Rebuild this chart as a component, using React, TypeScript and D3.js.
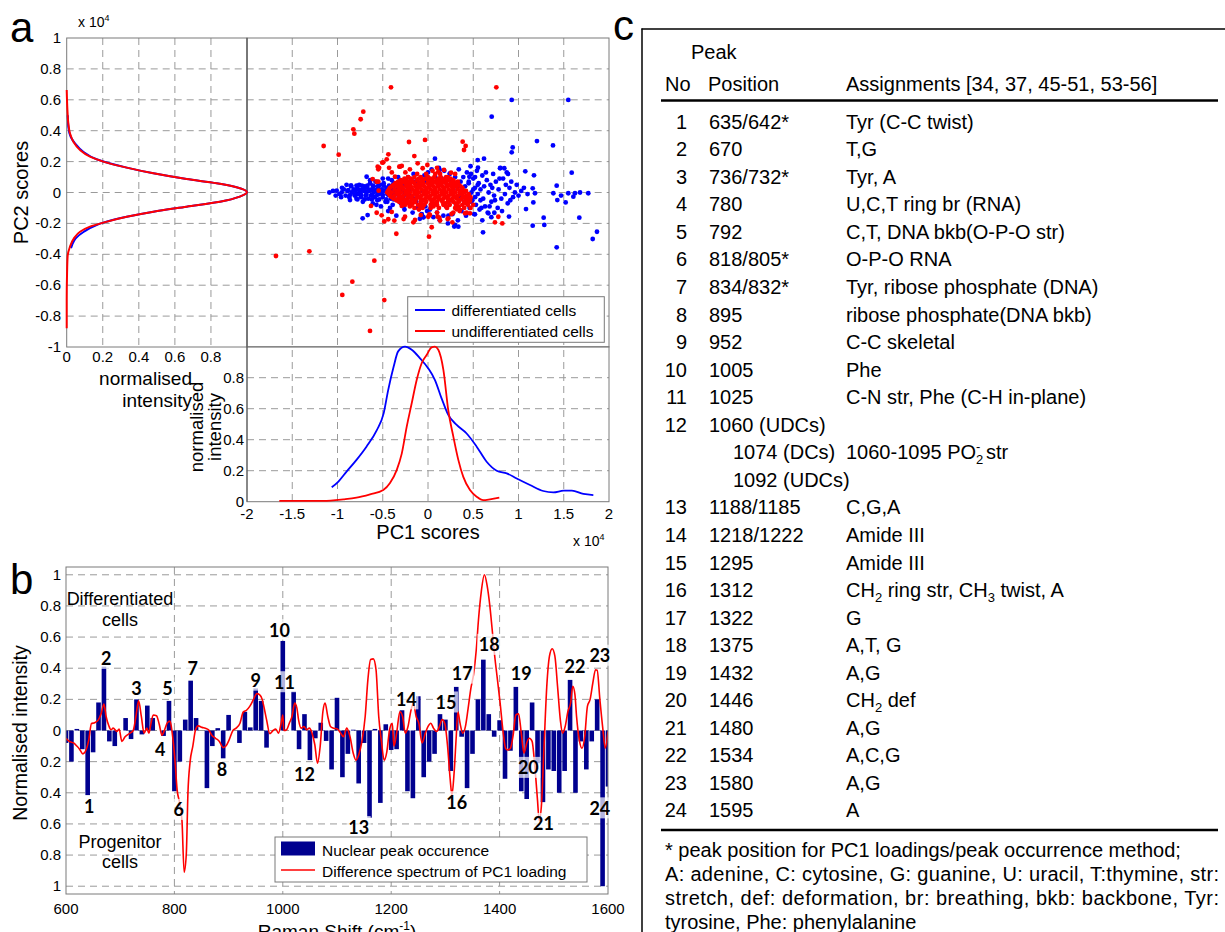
import React from 'react';
import * as d3 from 'd3';

const FONT = "'Liberation Sans', Arial, Helvetica, sans-serif";
const NUM_FONT = "Lato, 'Open Sans', sans-serif";

// ---------------- Panel a: ticks ----------------
const pc2Ticks = [1, 0.8, 0.6, 0.4, 0.2, 0, -0.2, -0.4, -0.6, -0.8, -1];
const pc2Grid = [0.8, 0.6, 0.4, 0.2, 0, -0.2, -0.4, -0.6, -0.8];
const intensityTicks = [0, 0.2, 0.4, 0.6, 0.8];
const intensityGrid = [0.2, 0.4, 0.6, 0.8];
const pc1Ticks = [-2, -1.5, -1, -0.5, 0, 0.5, 1, 1.5, 2];
const pc1Grid = [-1.5, -1, -0.5, 0, 0.5, 1, 1.5];
const densTicks = [0, 0.2, 0.4, 0.6, 0.8];
const densGrid = [0.2, 0.4, 0.6, 0.8];

// ---------------- Panel a: PC1 marginal density (x 10^4) ----------------
const blueKdePC1 = [-1.064, -0.99, -0.9, -0.79, -0.68, -0.567, -0.49, -0.44, -0.38, -0.33, -0.254, -0.18, -0.088, 0.003, 0.077, 0.15, 0.224, 0.317, 0.427, 0.538, 0.648, 0.759, 0.87, 0.98, 1.127, 1.274, 1.385, 1.5, 1.59, 1.717, 1.827];
const blueKdeVal = [0.093, 0.13, 0.194, 0.27, 0.355, 0.46, 0.57, 0.72, 0.87, 0.97, 1.0, 0.98, 0.925, 0.86, 0.785, 0.667, 0.56, 0.495, 0.44, 0.355, 0.258, 0.2, 0.183, 0.15, 0.108, 0.069, 0.06, 0.071, 0.071, 0.05, 0.043];
const redKdePC1 = [-1.643, -1.157, -0.936, -0.79, -0.64, -0.494, -0.42, -0.346, -0.29, -0.235, -0.18, -0.125, -0.07, -0.015, 0.04, 0.077, 0.114, 0.17, 0.224, 0.28, 0.335, 0.39, 0.464, 0.538, 0.61, 0.685, 0.788];
const redKdeVal = [0.005, 0.005, 0.015, 0.026, 0.048, 0.075, 0.12, 0.204, 0.31, 0.484, 0.635, 0.785, 0.893, 0.946, 0.996, 1.0, 0.98, 0.85, 0.59, 0.42, 0.27, 0.16, 0.075, 0.032, 0.01, 0.015, 0.026];

// ---------------- Panel a: PC2 marginal density ----------------
const redMargPC2 = [0.663, 0.534, 0.448, 0.383, 0.329, 0.275, 0.232, 0.2, 0.161, 0.124, 0.087, 0.06, 0.034, 0.003, -0.027, -0.06, -0.092, -0.124, -0.157, -0.195, -0.221, -0.254, -0.297, -0.351, -0.415, -0.523, -0.696, -0.879];
const redMargVal = [0, 0.004, 0.009, 0.018, 0.037, 0.074, 0.129, 0.203, 0.333, 0.481, 0.665, 0.832, 0.942, 1.0, 0.96, 0.85, 0.665, 0.481, 0.333, 0.203, 0.129, 0.074, 0.04, 0.018, 0.005, 0.002, 0, 0];
const blueMargPC2 = [0.5, 0.426, 0.361, 0.318, 0.264, 0.215, 0.161, 0.124, 0.087, 0.06, 0.034, 0.003, -0.027, -0.06, -0.092, -0.124, -0.157, -0.195, -0.21, -0.254, -0.297, -0.34, -0.36];
const blueMargVal = [0.006, 0.009, 0.022, 0.046, 0.092, 0.166, 0.333, 0.481, 0.665, 0.832, 0.942, 1.0, 0.96, 0.85, 0.665, 0.481, 0.333, 0.203, 0.166, 0.095, 0.05, 0.03, 0.024];

// ---------------- Panel a: scores (PC1, PC2) x 10^4 ----------------
const blueScores: number[][] = [
  [0.925, 0.599], [1.55, 0.599], [0.704, 0.491], [1.204, 0.333], [1.381, 0.305], [0.936, 0.292], [0.925, 0.26], [0.549, 0.21], [0.619, 0.219], [0.077, 0.219],
  [0.552, 0.161], [0.796, 0.157], [0.843, 0.157], [0.884, 0.12], [1.075, 0.137], [1.171, 0.111], [1.588, 0.128], [1.422, 0.044], [1.68, 0], [1.771, -0.005],
  [1.385, -0.005], [1.47, -0.02], [1.606, -0.027], [1.624, -0.005], [1.55, -0.005], [1.429, -0.049], [1.521, -0.064], [1.157, 0.027], [1.182, -0.005], [1.083, -0.107],
  [1.164, -0.064], [1.278, -0.163], [1.285, -0.21], [1.157, -0.215], [1.672, -0.163], [1.867, -0.254], [1.82, -0.301], [1.422, -0.355], [0.608, -0.258], [0.895, -0.156],
  [0.818, -0.12], [0.733, -0.131], [0.667, -0.135], [0.519, -0.141], [0.298, -0.21], [0.335, -0.221], [0.225, -0.15], [-0.052, -0.161], [-0.07, -0.141], [-0.722, -0.167],
  [-0.667, -0.146], [0.129, 0.146], [0.243, 0.124], [0.475, 0.12], [0.457, 0.102], [-0.678, 0.102], [-0.851, 0.044], [-1.09, 0], [-1.009, 0.012], [-0.954, 0], [-0.862, -0.049],
  [-1.05, 0.01], [-0.98, -0.01], [-0.93, 0.02], [-0.91, -0.02], [-0.89, 0.01], [-0.87, -0.03], [-0.85, 0.04], [-0.84, 0.0], [-0.82, 0.02], [-0.81, -0.02], [-0.8, 0.01], [-0.79, -0.04],
  [-0.78, 0.03], [-0.77, -0.01], [-0.76, 0.05], [-0.75, 0.0], [-0.74, -0.03], [-0.73, 0.02], [-0.72, -0.06], [-0.71, 0.01], [-0.7, 0.04], [-0.69, -0.02], [-0.68, 0.0], [-0.67, 0.03],
  [-0.66, -0.04], [-0.65, 0.01], [-0.64, 0.06], [-0.63, -0.02], [-0.62, 0.02], [-0.61, -0.07], [-0.6, 0.0], [-0.6, 0.04], [-0.59, -0.03], [-0.58, 0.07], [-0.57, 0.01], [-0.56, -0.05],
  [-0.55, 0.03], [-0.54, -0.01], [-0.53, 0.05], [-0.52, -0.09], [-0.52, 0.0], [-0.51, 0.02], [-0.5, -0.03], [-0.49, 0.06], [-0.48, 0.01], [-0.47, -0.06], [-0.46, 0.03], [-0.45, -0.01],
  [-0.44, 0.09], [-0.44, -0.12], [-0.43, 0.0], [-0.42, 0.04], [-0.41, -0.04], [-0.4, 0.02], [-0.39, -0.08], [-0.38, 0.06], [-0.37, -0.02], [-0.36, 0.01], [-0.35, -0.15], [-0.35, 0.05],
  [-0.34, -0.05], [-0.33, 0.03], [-0.32, -0.01], [-0.31, 0.08], [-0.3, -0.07], [-0.29, 0.02], [-0.28, -0.03], [-0.27, 0.05], [-0.26, -0.11], [-0.25, 0.0], [-0.24, 0.04], [-0.23, -0.05],
  [-0.22, 0.1], [-0.21, -0.02], [-0.2, 0.06], [-0.19, -0.08], [-0.18, 0.02], [-0.17, -0.13], [-0.16, 0.12], [-0.15, -0.04], [-0.14, 0.07], [-0.13, -0.06], [-0.12, 0.03], [-0.11, -0.1],
  [-0.1, 0.05], [-0.09, -0.17], [-0.08, 0.09], [-0.07, -0.14], [-0.06, 0.01], [-0.05, -0.16], [-0.04, 0.11], [-0.03, -0.09], [-0.02, 0.07], [-0.01, -0.12], [0.0, 0.13],
  [0.02, -0.11], [0.04, 0.15], [0.06, -0.16], [0.08, 0.1], [0.1, -0.13], [0.12, 0.16], [0.13, -0.18], [0.15, 0.09], [0.17, -0.15], [0.18, 0.14], [0.2, -0.09], [0.21, 0.05],
  [0.22, -0.2], [0.24, 0.12], [0.25, -0.05], [0.26, 0.08], [0.27, -0.14], [0.28, 0.02], [0.29, -0.22], [0.3, 0.1], [0.31, -0.08], [0.32, 0.04], [0.33, -0.18], [0.34, 0.15],
  [0.35, -0.03], [0.36, 0.07], [0.37, -0.12], [0.38, 0.01], [0.39, 0.1], [0.4, -0.06], [0.41, 0.04], [0.42, -0.15], [0.43, 0.13], [0.44, -0.02], [0.45, 0.07], [0.46, -0.1],
  [0.47, 0.17], [0.48, 0.0], [0.49, -0.05], [0.5, 0.09], [0.51, -0.14], [0.52, 0.03], [0.53, -0.08], [0.54, 0.14], [0.55, -0.01], [0.56, 0.06], [0.57, -0.11], [0.58, 0.02],
  [0.6, 0.11], [0.61, -0.04], [0.62, 0.04], [0.63, -0.09], [0.65, 0.08], [0.66, -0.13], [0.67, 0.0], [0.69, 0.05], [0.7, -0.06], [0.72, 0.12], [0.73, -0.02], [0.75, 0.07],
  [0.77, -0.1], [0.78, 0.02], [0.8, 0.16], [0.81, -0.04], [0.83, 0.09], [0.85, -0.01], [0.87, 0.13], [0.88, -0.07], [0.9, 0.03], [0.92, 0.07], [0.94, -0.03], [0.96, 0.0],
  [0.98, 0.05], [1.0, -0.02], [1.03, 0.01], [1.06, 0.03], [1.1, -0.01],
  [-0.85, 0.045], [-0.79, 0.045], [-0.73, 0.045], [-0.67, 0.045], [-0.61, 0.045], [-0.55, 0.045], [-0.49, 0.045], [-0.43, 0.045], [-0.37, 0.045], [-0.31, 0.045],
  [-0.88, 0.015], [-0.82, 0.015], [-0.76, 0.015], [-0.7, 0.015], [-0.64, 0.015], [-0.58, 0.015], [-0.52, 0.015], [-0.46, 0.015], [-0.4, 0.015], [-0.34, 0.015], [-0.28, 0.015],
  [-0.86, -0.015], [-0.8, -0.015], [-0.74, -0.015], [-0.68, -0.015], [-0.62, -0.015], [-0.56, -0.015], [-0.5, -0.015], [-0.44, -0.015], [-0.38, -0.015], [-0.32, -0.015], [-0.26, -0.015],
  [-0.78, -0.045], [-0.7, -0.045], [-0.62, -0.045], [-0.54, -0.045], [-0.46, -0.045], [-0.38, -0.045], [-0.3, -0.045],
  [0.45, 0.06], [0.5, 0.02], [0.52, -0.03], [0.48, -0.06], [0.55, 0.05], [0.58, -0.05], [-0.4, 0.08], [-0.45, -0.06],
  [-0.95, 0.03], [-0.96, -0.03], [-1.02, -0.02], [-0.9, 0.05], [-0.64, 0.08], [-0.57, -0.08], [-0.5, 0.09], [-0.42, -0.1], [-0.33, 0.1], [-0.27, -0.09],
  [0.52, 0.1], [0.59, -0.1], [0.64, 0.13], [0.68, -0.09], [0.71, 0.03], [0.74, -0.05], [0.79, 0.09], [0.86, 0.05], [0.91, -0.05], [0.6, -0.18], [0.7, -0.16],
];

const redScores: number[][] = [
  [-0.409, 0.681], [0.755, 0.681], [-0.715, 0.523], [-0.744, 0.474], [-0.825, 0.409], [-0.814, 0.381], [-1.153, 0.301], [-0.987, 0.245], [-0.21, 0.327], [-0.033, 0.34],
  [0.383, 0.329], [0.416, 0.301], [0.398, 0.275], [-1.68, -0.411], [-1.311, -0.381], [-0.593, -0.441], [-0.836, -0.577], [-0.947, -0.663], [-0.483, -0.696], [-0.641, -0.896],
  [-0.35, -0.267], [0.011, -0.286], [0.041, -0.225], [0.74, -0.193], [0.821, -0.2], [-0.162, -0.193], [-0.483, -0.187], [-0.372, -0.182], [-0.567, -0.131], [-0.512, -0.148],
  [-0.269, -0.172], [-0.556, 0.167], [-0.54, 0.16], [-0.494, 0.195], [-0.456, 0.215], [-0.438, 0.247], [-0.317, 0.167], [-0.29, 0.172], [-0.151, 0.236], [-0.114, 0.189],
  [-0.059, 0.157], [-0.007, 0.178], [0.133, 0.12], [0.177, 0.146], [0.464, -0.055], [0.354, -0.113], [0.427, -0.131], [0.217, -0.172], [0.269, -0.193], [0.125, -0.163],
  [0.015, -0.141], [-0.611, 0.087], [-0.549, 0.07], [-0.63, -0.087], [-0.401, -0.126], [-0.206, -0.07],
  [-0.549, 0.15], [-0.505, 0.193], [-0.43, 0.16], [-0.567, 0.07], [-0.545, 0.012], [-0.365, 0.102], [-0.309, 0.167], [-0.439, -0.173], [-0.254, -0.157], [-0.144, -0.178],
  [-0.08, -0.146], [0.003, -0.157], [-0.29, -0.087], [-0.235, -0.07], [-0.31, -0.049], [-0.4, 0.13], [-0.25, 0.13], [-0.2, 0.15], [0.05, 0.14], [0.1, 0.16],
  [0.22, 0.1], [0.3, 0.12], [0.28, -0.13], [0.35, -0.12], [0.47, -0.1], [0.5, -0.08], [0.1, -0.13], [-0.1, -0.11], [0.114, 0.135], [0.254, 0.128],
  [0.022, -0.146], [0.107, -0.157], [0.133, -0.182], [0.225, -0.167], [0.26, -0.139], [0.317, -0.109], [0.409, -0.135], [0.464, -0.135], [0.464, -0.049], [0.777, -0.157],
];

// dense core of undifferentiated-cell scores, read row by row (PC2 level, PC1 positions)
const redCoreLevels = [0.12, 0.1, 0.08, 0.06, 0.04, 0.02, 0, -0.02, -0.04, -0.06, -0.08, -0.1];
const redCorePC1: number[][] = [
  [-0.12, -0.02, 0.08],
  [-0.22, -0.15, -0.08, 0.0, 0.07, 0.14, 0.2],
  [-0.3, -0.24, -0.18, -0.12, -0.06, 0.0, 0.05, 0.1, 0.16, 0.22, 0.28],
  [-0.36, -0.3, -0.25, -0.2, -0.15, -0.1, -0.05, 0.0, 0.05, 0.1, 0.15, 0.2, 0.25, 0.3],
  [-0.4, -0.34, -0.29, -0.24, -0.19, -0.14, -0.09, -0.04, 0.01, 0.06, 0.11, 0.16, 0.21, 0.26, 0.31, 0.36],
  [-0.43, -0.37, -0.32, -0.27, -0.22, -0.17, -0.12, -0.07, -0.02, 0.03, 0.08, 0.13, 0.18, 0.23, 0.28, 0.33, 0.38],
  [-0.45, -0.4, -0.35, -0.3, -0.25, -0.2, -0.15, -0.1, -0.05, 0.0, 0.05, 0.1, 0.15, 0.2, 0.25, 0.3, 0.35, 0.4],
  [-0.42, -0.37, -0.32, -0.27, -0.22, -0.17, -0.12, -0.07, -0.02, 0.03, 0.08, 0.13, 0.18, 0.23, 0.28, 0.33, 0.38, 0.43],
  [-0.38, -0.33, -0.28, -0.23, -0.18, -0.13, -0.08, -0.03, 0.02, 0.07, 0.12, 0.17, 0.22, 0.27, 0.32, 0.37, 0.42, 0.46],
  [-0.32, -0.26, -0.2, -0.14, -0.08, -0.02, 0.04, 0.1, 0.16, 0.22, 0.28, 0.34, 0.4, 0.45],
  [-0.25, -0.18, -0.11, -0.04, 0.03, 0.1, 0.17, 0.24, 0.31, 0.38, 0.44],
  [-0.15, -0.06, 0.03, 0.12, 0.21, 0.3, 0.4],
];
// second, offset row set filling the gaps of the solid red blob
const redFillLevels = [0.09, 0.07, 0.05, 0.03, 0.01, -0.01, -0.03, -0.05, -0.07, -0.09];
const redFillPC1: number[][] = [
  [-0.26, -0.19, -0.1, -0.03, 0.03, 0.12, 0.19, 0.25],
  [-0.33, -0.27, -0.22, -0.17, -0.07, 0.02, 0.08, 0.13, 0.18, 0.28, 0.33],
  [-0.38, -0.32, -0.21, -0.11, -0.06, 0.03, 0.13, 0.23, 0.28, 0.34],
  [-0.42, -0.31, -0.21, -0.11, -0.01, 0.08, 0.18, 0.28, 0.38],
  [-0.44, -0.34, -0.24, -0.14, -0.04, 0.06, 0.16, 0.26, 0.36, 0.42],
  [-0.43, -0.33, -0.23, -0.13, -0.03, 0.07, 0.17, 0.27, 0.37, 0.45],
  [-0.4, -0.3, -0.2, -0.1, 0.0, 0.1, 0.2, 0.3, 0.4, 0.47],
  [-0.35, -0.24, -0.15, -0.05, 0.05, 0.15, 0.25, 0.35, 0.44],
  [-0.29, -0.17, -0.07, 0.07, 0.19, 0.31, 0.42],
  [-0.2, -0.08, 0.06, 0.2, 0.34],
];

// ---------------- Panel b data ----------------
const ramanShift = d3.range(600, 1601, 10);
const peakOccurrence = [
  -0.08, -0.2, 0.01, -0.12, -0.415, -0.14, 0.18, 0.41, -0.07, -0.1,
  0, 0.08, -0.055, 0.2, -0.025, 0.16, 0.08, 0, -0.035, 0.19,
  -0.39, -0.2, 0.07, 0.32, 0.08, 0, -0.37, -0.1, 0.015, -0.18,
  0.1, 0, -0.08, 0.12, 0.02, 0.27, 0.19, -0.11, 0, 0,
  0.575, 0, 0.25, -0.12, 0.105, -0.19, -0.05, 0.05, -0.067, -0.25,
  0.21, -0.3, -0.15, 0.005, -0.34, -0.08, -0.56, 0.01, -0.465, 0.04,
  -0.125, -0.12, 0.13, -0.39, -0.435, 0.22, -0.3, -0.2, -0.15, 0.105,
  0.07, -0.26, 0.28, -0.04, -0.37, -0.15, 0.2, 0.455, 0.105, -0.04,
  0.066, -0.31, -0.13, 0.28, -0.39, -0.44, 0.18, -0.21, -0.46, -0.25,
  -0.26, -0.4, -0.26, 0.325, -0.4, -0.07, -0.25, -0.07, 0.2, -1.0,
  -0.36,
];
const loadingShift = [
  600, 606, 614, 620, 625, 631, 637, 642, 647, 653, 660, 665, 670, 674, 679, 683, 687, 694, 698, 703,
  709, 718, 724, 729, 734, 739, 744, 749, 753, 756, 761, 767, 772, 777, 782, 787, 792, 796, 801, 805,
  810, 814, 818, 822, 825, 829, 834, 839, 844, 851, 857, 863, 869, 876, 883, 890, 895, 901, 908, 914,
  921, 927, 933, 939, 946, 952, 957, 962, 965, 970, 976, 982, 987, 992, 997, 1000, 1002, 1007, 1012, 1017,
  1022, 1026, 1029, 1034, 1039, 1044, 1049, 1054, 1059, 1064, 1069, 1074, 1078, 1083, 1088, 1094, 1101, 1106, 1112, 1118,
  1124, 1130, 1135, 1140, 1146, 1152, 1157, 1162, 1167, 1172, 1177, 1182, 1187, 1192, 1197, 1202, 1205, 1210, 1216, 1221,
  1226, 1231, 1236, 1241, 1246, 1251, 1257, 1263, 1268, 1273, 1278, 1284, 1289, 1294, 1299, 1304, 1309, 1312, 1316, 1320,
  1323, 1327, 1332, 1337, 1342, 1347, 1352, 1357, 1361, 1366, 1372, 1377, 1382, 1386, 1391, 1396, 1401, 1406, 1411, 1415,
  1420, 1425, 1430, 1435, 1440, 1445, 1450, 1455, 1460, 1465, 1470, 1473, 1477, 1482, 1487, 1492, 1497, 1502, 1507, 1512,
  1516, 1521, 1526, 1531, 1535, 1539, 1542, 1547, 1552, 1557, 1562, 1567, 1572, 1577, 1580, 1585, 1590, 1595, 1600,
];
const loadingValue = [
  -0.05, -0.07, -0.08, -0.1, -0.12, -0.15, -0.125, -0.06, 0.045, 0.05, 0.07, 0.11, 0.17, 0.09, 0.03, 0.005, 0.015, -0.006, 0.01, -0.07,
  -0.04, -0.017, 0, 0.09, 0.19, 0.09, -0.017, 0.015, -0.017, 0.03, 0.1, 0.095, 0.04, -0.03, 0.005, 0.05, 0.06, -0.017, -0.19, -0.38,
  -0.47, -0.58, -0.91, -0.79, -0.4, -0.2, -0.1, 0.005, 0.03, 0.02, 0.015, 0.005, -0.03, -0.05, -0.07, -0.11, -0.1, -0.06, 0, 0.015,
  0.047, 0.118, 0.13, 0.155, 0.2, 0.237, 0.23, 0.2, 0.155, 0.07, -0.02, 0, 0.01, -0.017, 0.047, 0.1, 0, 0.005, 0.047, 0.09,
  0.176, 0.144, 0.07, 0.015, 0.026, 0.005, 0.015, -0.017, -0.09, -0.21, -0.1, 0.122, 0.176, 0.09, 0.026, 0.015, 0.009, -0.013, -0.04, 0.015,
  -0.04, -0.146, -0.19, -0.157, -0.07, 0.09, 0.327, 0.456, 0.46, 0.39, 0.09, -0.07, -0.19, -0.135, 0.005, 0.047, -0.1, -0.017, 0.12, 0.09,
  -0.017, 0.026, 0.122, 0.176, 0.09, 0.047, -0.08, -0.017, 0.026, 0.047, 0.015, -0.006, 0.026, 0.07, 0.043, -0.1, -0.32, -0.415, -0.275, -0.04,
  0.122, 0.047, -0.017, 0.026, 0.144, 0.27, 0.36, 0.52, 0.71, 0.886, 1.0, 0.93, 0.8, 0.66, 0.477, 0.327, 0.176, 0.005, -0.114, -0.125,
  -0.114, -0.03, 0.1, 0.107, -0.017, -0.146, -0.08, -0.05, -0.07, -0.23, -0.45, -0.58, -0.49, -0.1, 0.28, 0.477, 0.525, 0.477, 0.28, 0.07,
  -0.017, 0.026, 0.122, 0.176, 0.284, 0.23, 0.09, -0.06, -0.114, -0.04, 0.155, 0.2, 0.305, 0.39, 0.387, 0.2, 0.026, -0.114, -0.006,
];
const rsTicks = [600, 800, 1000, 1200, 1400, 1600];
const rsGrid = [800, 1000, 1200, 1400];
const niTicks = [1, 0.8, 0.6, 0.4, 0.2, 0, -0.2, -0.4, -0.6, -0.8, -1];
const niTickLabels = ['1', '0.8', '0.6', '0.4', '0.2', '0', '0.2', '0.4', '0.6', '0.8', '1'];
// peak number annotations: Raman shift / intensity of label centre
const peakLabelNo = ['1', '2', '3', '4', '5', '6', '7', '8', '9', '10', '11', '12', '13', '14', '15', '16', '17', '18', '19', '20', '21', '22', '23', '24'];
const peakLabelShift = [643, 674, 730, 774, 787, 808, 834, 888, 950, 994, 1003, 1040, 1140, 1228, 1301, 1321, 1331, 1381, 1440, 1453, 1481, 1539, 1585, 1585];
const peakLabelValue = [-0.49, 0.46, 0.27, -0.12, 0.27, -0.51, 0.4, -0.25, 0.32, 0.645, 0.31, -0.28, -0.62, 0.2, 0.18, -0.46, 0.365, 0.55, 0.365, -0.24, -0.6, 0.41, 0.48, -0.5];

// ---------------- Panel c table ----------------
const tableNo = ['1', '2', '3', '4', '5', '6', '7', '8', '9', '10', '11', '12', '', '', '13', '14', '15', '16', '17', '18', '19', '20', '21', '22', '23', '24'];
const tablePos = ['635/642*', '670', '736/732*', '780', '792', '818/805*', '834/832*', '895', '952', '1005', '1025', '1060 (UDCs)', '1074 (DCs)', '1092 (UDCs)', '1188/1185', '1218/1222', '1295', '1312', '1322', '1375', '1432', '1446', '1480', '1534', '1580', '1595'];
const tableAssign = ['Tyr (C-C twist)', 'T,G', 'Tyr, A', 'U,C,T ring br (RNA)', 'C,T, DNA bkb(O-P-O str)', 'O-P-O RNA', 'Tyr, ribose phosphate (DNA)', 'ribose phosphate(DNA bkb)', 'C-C skeletal', 'Phe', 'C-N str, Phe (C-H in-plane)', '', '1060-1095 PO_2^- str', '', 'C,G,A', 'Amide III', 'Amide III', 'CH_2 ring str, CH_3 twist, A', 'G', 'A,T, G', 'A,G', 'CH_2 def', 'A,G', 'A,C,G', 'A,G', 'A'];
const footnotes = [
  '* peak position for PC1 loadings/peak occurrence method;',
  'A: adenine, C: cytosine, G: guanine, U: uracil, T:thymine, str:',
  'stretch, def: deformation, br: breathing, bkb: backbone, Tyr:',
  'tyrosine, Phe: phenylalanine',
];
const footJustified = [false, true, true, false];

function RichText({ s, x, y, size }: { s: string; x: number; y: number; size: number }) {
  const parts = s.split(/(_\d|\^-)/).filter((p) => p !== '');
  let cur = 0;
  let prevSub = false;
  const small = size * 0.65;
  const out: any[] = [];
  parts.forEach((p, i) => {
    if (p.startsWith('_')) {
      const dy = 5 - cur;
      cur = 5;
      out.push(<tspan key={i} dy={dy} fontSize={small}>{p.slice(1)}</tspan>);
      prevSub = true;
    } else if (p.startsWith('^')) {
      const dy = -8 - cur;
      cur = -8;
      out.push(<tspan key={i} dx={prevSub ? -small * 0.556 : 0} dy={dy} fontSize={small}>{'-'}</tspan>);
      prevSub = false;
    } else {
      const dy = 0 - cur;
      cur = 0;
      out.push(<tspan key={i} dy={dy}>{p}</tspan>);
      prevSub = false;
    }
  });
  return (
    <text x={x} y={y} fontSize={size} fontFamily={FONT} fill="#000">
      {out}
    </text>
  );
}

export default function App() {
  const W = 1225;
  const H = 932;

  // panel a scales
  const xPC1 = d3.scaleLinear().domain([-2, 2]).range([247, 609]);
  const yPC2 = d3.scaleLinear().domain([-1, 1]).range([347, 38]);
  const xInt = d3.scaleLinear().domain([0, 1]).range([66.7, 247]);
  const yDen = d3.scaleLinear().domain([0, 1]).range([501.7, 346.7]);
  // panel b scales
  const xRS = d3.scaleLinear().domain([600, 1600]).range([66, 608]);
  const yNI = d3.scaleLinear().domain([-1.05, 1.05]).range([894, 567]);

  const gridStroke = '#9a9a9a';
  const dash = '7,5';
  const axisStroke = '#7a7a7a';

  const kdeLine = d3.line<number[]>().x((d) => xPC1(d[0])).y((d) => yDen(d[1])).curve(d3.curveMonotoneX);
  const margLine = d3.line<number[]>().x((d) => xInt(d[1])).y((d) => yPC2(d[0])).curve(d3.curveMonotoneY);
  const loadLine = d3.line<number[]>().x((d) => xRS(d[0])).y((d) => yNI(d[1])).curve(d3.curveMonotoneX);

  const blueKde = blueKdePC1.map((v, i) => [v, blueKdeVal[i]]);
  const redKde = redKdePC1.map((v, i) => [v, redKdeVal[i]]);
  const blueMarg = blueMargPC2.map((v, i) => [v, blueMargVal[i]]);
  const redMarg = redMargPC2.map((v, i) => [v, redMargVal[i]]);
  const loading = loadingShift.map((v, i) => [v, loadingValue[i]]);
  const redCore: number[][] = [];
  redCoreLevels.forEach((lv, r) => redCorePC1[r].forEach((p) => redCore.push([p, lv])));
  redFillLevels.forEach((lv, r) => redFillPC1[r].forEach((p) => redCore.push([p, lv])));
  const redAll = redScores.concat(redCore);

  const barW = xRS(608.5) - xRS(600);
  const dotR = 2.4;

  const tableLineY = (i: number) => 128.7 + i * 27.55;

  return (
    <svg width={W} height={H} style={{ position: 'absolute', left: 0, top: 0, background: '#fff' }} fontFamily={FONT}>
      <defs>
        <clipPath id="clipScatter"><rect x={247} y={38} width={362} height={309} /></clipPath>
        <clipPath id="clipB"><rect x={66} y={567} width={542} height={327} /></clipPath>
      </defs>
      <rect x={0} y={0} width={W} height={H} fill="#fff" />

      {/* ================= Panel a ================= */}
      <text x={10} y={42} fontSize={42} fill="#000">a</text>
      <text x={78} y={27} fontSize={14} fill="#000">x 10<tspan dy={-6} fontSize={9}>4</tspan></text>

      {intensityGrid.map((v) => (
        <line key={'ig' + v} x1={xInt(v)} x2={xInt(v)} y1={38} y2={347} stroke={gridStroke} strokeDasharray={dash} />
      ))}
      {pc2Grid.map((v) => (
        <line key={'pg' + v} x1={66.7} x2={609} y1={yPC2(v)} y2={yPC2(v)} stroke={gridStroke} strokeDasharray={dash} />
      ))}
      {pc1Grid.map((v) => (
        <line key={'sg' + v} x1={xPC1(v)} x2={xPC1(v)} y1={38} y2={501.7} stroke={gridStroke} strokeDasharray={dash} />
      ))}
      {densGrid.map((v) => (
        <line key={'dg' + v} x1={247} x2={609} y1={yDen(v)} y2={yDen(v)} stroke={gridStroke} strokeDasharray={dash} />
      ))}

      <rect x={66.7} y={38} width={180.3} height={309} fill="none" stroke={axisStroke} />
      <rect x={247} y={38} width={362} height={309} fill="none" stroke={axisStroke} />
      <rect x={247} y={346.7} width={362} height={155} fill="none" stroke={axisStroke} />
      <line x1={247} x2={247} y1={38} y2={501.7} stroke="#555" />

      <g clipPath="url(#clipScatter)">
        {blueScores.map((d, i) => (
          <circle key={'b' + i} cx={xPC1(d[0])} cy={yPC2(d[1])} r={dotR} fill="#0000ff" />
        ))}
        {redAll.map((d, i) => (
          <circle key={'r' + i} cx={xPC1(d[0])} cy={yPC2(d[1])} r={dotR} fill="#ff0000" />
        ))}
      </g>

      <path d={margLine(blueMarg) || ''} fill="none" stroke="#0000ff" strokeWidth={2} />
      <path d={margLine(redMarg) || ''} fill="none" stroke="#ff0000" strokeWidth={2} />
      <path d={kdeLine(blueKde) || ''} fill="none" stroke="#0000ff" strokeWidth={1.8} />
      <path d={kdeLine(redKde) || ''} fill="none" stroke="#ff0000" strokeWidth={1.8} />

      {pc2Ticks.map((v) => (
        <text key={'pt' + v} x={61} y={yPC2(v) + 5} fontSize={15} textAnchor="end">{String(v)}</text>
      ))}
      {intensityTicks.map((v) => (
        <text key={'it' + v} x={xInt(v)} y={362} fontSize={15} textAnchor="middle">{String(v)}</text>
      ))}
      {densTicks.map((v) => (
        <text key={'dt' + v} x={244} y={yDen(v) + 5} fontSize={15} textAnchor="end">{String(v)}</text>
      ))}
      {pc1Ticks.map((v) => (
        <text key={'p1t' + v} x={xPC1(v)} y={519} fontSize={15} textAnchor="middle">{String(v)}</text>
      ))}
      <text transform="translate(28,192.5) rotate(-90)" fontSize={20} textAnchor="middle">PC2 scores</text>
      <text x={192} y={385} fontSize={19} textAnchor="end">normalised</text>
      <text x={192} y={407} fontSize={19} textAnchor="end">intensity</text>
      <text transform="translate(203,427) rotate(-90)" fontSize={18.5} textAnchor="middle">normalised</text>
      <text transform="translate(221,427) rotate(-90)" fontSize={18.5} textAnchor="middle">intensity</text>
      <text x={428} y={539} fontSize={20} textAnchor="middle">PC1 scores</text>
      <text x={573} y={546} fontSize={14}>x 10<tspan dy={-6} fontSize={9}>4</tspan></text>

      <rect x={407.7} y={296.7} width={196.6} height={45.6} fill="#fff" stroke={axisStroke} />
      <line x1={415} x2={445} y1={310} y2={310} stroke="#0000ff" strokeWidth={2} />
      <line x1={415} x2={445} y1={331} y2={331} stroke="#ff0000" strokeWidth={2} />
      <text x={451.5} y={315.5} fontSize={15.5}>differentiated cells</text>
      <text x={451.5} y={336.5} fontSize={15.5}>undifferentiated cells</text>

      {/* ================= Panel b ================= */}
      <text x={10} y={594} fontSize={42} fill="#000">b</text>
      {rsGrid.map((v) => (
        <line key={'rg' + v} x1={xRS(v)} x2={xRS(v)} y1={567} y2={894} stroke={gridStroke} strokeDasharray={dash} />
      ))}
      {niTicks.map((v) => (
        <line key={'ng' + v} x1={66} x2={608} y1={yNI(v)} y2={yNI(v)} stroke={gridStroke} strokeDasharray={dash} />
      ))}
      <g clipPath="url(#clipB)">
        {ramanShift.map((rs, i) => {
          const v = peakOccurrence[i];
          const y0 = yNI(0);
          const y1 = yNI(v);
          return (
            <rect key={'bar' + rs} x={xRS(rs) - barW / 2} y={Math.min(y0, y1)} width={barW} height={Math.abs(y1 - y0)} fill="#00008f" />
          );
        })}
        <path d={loadLine(loading) || ''} fill="none" stroke="#ff0000" strokeWidth={1.6} />
      </g>
      <rect x={66} y={567} width={542} height={327} fill="none" stroke={axisStroke} />

      {peakLabelNo.map((n, i) => {
        const cx = xRS(peakLabelShift[i]);
        const cy = yNI(peakLabelValue[i]);
        const w = n.length * 10 + 4;
        return (
          <g key={'pl' + n}>
            <rect x={cx - w / 2} y={cy - 11} width={w} height={21} fill="#fff" opacity={0.7} />
            <text x={cx} y={cy + 6.5} fontSize={18} fontWeight={700} fontFamily={NUM_FONT} textAnchor="middle">{n}</text>
          </g>
        );
      })}

      <text x={120} y={605} fontSize={18} textAnchor="middle">Differentiated</text>
      <text x={120} y={626} fontSize={18} textAnchor="middle">cells</text>
      <text x={120} y={848} fontSize={18} textAnchor="middle">Progenitor</text>
      <text x={120} y={868} fontSize={18} textAnchor="middle">cells</text>

      {niTicks.map((v, i) => (
        <text key={'nt' + v} x={61} y={yNI(v) + 5} fontSize={15} textAnchor="end">{niTickLabels[i]}</text>
      ))}
      {rsTicks.map((v) => (
        <text key={'rt' + v} x={xRS(v)} y={914} fontSize={15} textAnchor="middle">{String(v)}</text>
      ))}
      <text transform="translate(27,733) rotate(-90)" fontSize={19.5} textAnchor="middle">Normalised intensity</text>
      <text x={337} y={938} fontSize={19} textAnchor="middle">Raman Shift (cm<tspan dy={-8} fontSize={12}>-1</tspan><tspan dy={8}>)</tspan></text>

      <rect x={275} y={837} width={312} height={45} fill="#fff" stroke={axisStroke} />
      <rect x={281} y={841.5} width={34} height={14} fill="#00008f" />
      <line x1={281} x2={315} y1={870} y2={870} stroke="#ff0000" strokeWidth={1.6} />
      <text x={322} y={855.5} fontSize={15.5}>Nuclear peak occurence</text>
      <text x={322} y={876.5} fontSize={15.5}>Difference spectrum of PC1 loading</text>

      {/* ================= Panel c ================= */}
      <text x={613} y={40} fontSize={42} fill="#000">c</text>
      <line x1={642} x2={642} y1={28.5} y2={H} stroke="#000" strokeWidth={1.5} />
      <line x1={641.5} x2={W} y1={29} y2={29} stroke="#000" strokeWidth={1.5} />

      <text x={691} y={58.5} fontSize={20}>Peak</text>
      <text x={665} y={90.5} fontSize={20}>No</text>
      <text x={708} y={90.5} fontSize={20}>Position</text>
      <text x={846} y={90.5} fontSize={20}>Assignments [34, 37, 45-51, 53-56]</text>
      <line x1={661} x2={1218} y1={100.5} y2={100.5} stroke="#000" strokeWidth={2.5} />

      {tableNo.map((n, i) => {
        const y = tableLineY(i);
        const sub = i === 12 || i === 13;
        return (
          <g key={'row' + i}>
            {n !== '' && <text x={687} y={y} fontSize={20} textAnchor="end">{n}</text>}
            <text x={sub ? 733 : 709} y={y} fontSize={20}>{tablePos[i]}</text>
            {tableAssign[i] !== '' && <RichText s={tableAssign[i]} x={846} y={y} size={20} />}
          </g>
        );
      })}

      <line x1={661} x2={1218} y1={830} y2={830} stroke="#000" strokeWidth={2.5} />
      {footnotes.map((t, i) => (
        <text
          key={'fn' + i}
          x={665}
          y={857 + i * 24}
          fontSize={20}
          textLength={footJustified[i] ? 554 : undefined}
          lengthAdjust={footJustified[i] ? 'spacing' : undefined}
        >
          {t}
        </text>
      ))}
    </svg>
  );
}
